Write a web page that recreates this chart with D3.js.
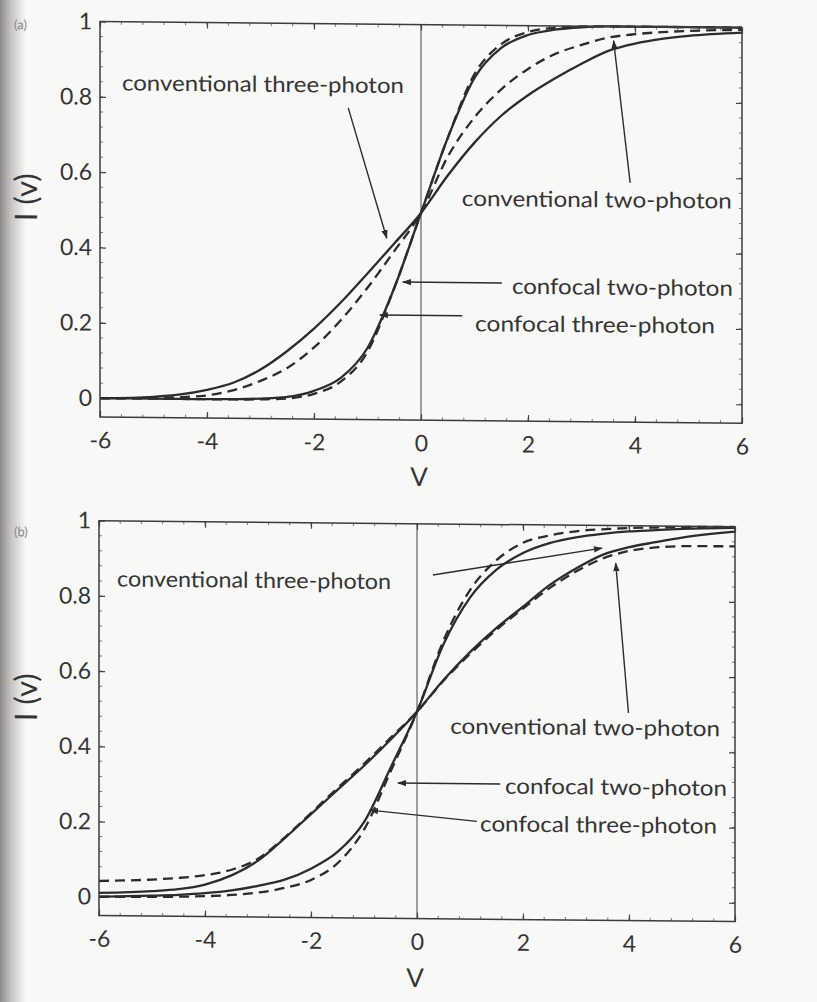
<!DOCTYPE html>
<html>
<head>
<meta charset="utf-8">
<script src="https://cdn.jsdelivr.net/npm/d3@7"></script>
<style>
  body { margin: 0; background: #f8f8f6; }
  svg { display: block; }
  text { font-family: Lato, "Noto Sans", sans-serif; fill: #353535; }
</style>
</head>
<body>
<svg id="fig" width="817" height="1002"></svg>
<script>
// Normalised optical coordinate v at which every curve is sampled
const vGrid = [-6, -5, -4.5, -4, -3.5, -3, -2.5, -2, -1.5, -1, -0.5, 0,
               0.5, 1, 1.5, 2, 2.5, 3, 3.5, 4, 4.5, 5, 6];

// (a) edge responses I(v)
const conv2pA = [0.0, 0.005, 0.012, 0.025, 0.045, 0.08, 0.13, 0.19, 0.26, 0.338, 0.418, 0.5,
                 0.6, 0.688, 0.76, 0.815, 0.86, 0.9, 0.935, 0.955, 0.968, 0.977, 0.987];
const conv3pA = [0.0, 0.002, 0.005, 0.01, 0.025, 0.05, 0.085, 0.14, 0.213, 0.3, 0.398, 0.5,
                 0.65, 0.755, 0.83, 0.885, 0.925, 0.95, 0.97, 0.98, 0.986, 0.99, 0.994];
const conf2pA = [0.0, 0.0, 0.0, 0.0, 0.001, 0.003, 0.008, 0.025, 0.06, 0.14, 0.3, 0.5,
                 0.7, 0.86, 0.94, 0.975, 0.99, 0.997, 1.0, 1.0, 1.0, 1.0, 1.0];
const conf3pA = [0.0, 0.0, 0.0, 0.0, 0.0, 0.001, 0.004, 0.017, 0.05, 0.13, 0.3, 0.5,
                 0.7, 0.87, 0.95, 0.983, 0.995, 0.999, 1.0, 1.0, 1.0, 1.0, 1.0];

// (b) edge responses I(v)
const conv2pB = [0.01, 0.016, 0.022, 0.035, 0.06, 0.1, 0.16, 0.225, 0.29, 0.355, 0.425, 0.5,
                 0.585, 0.66, 0.725, 0.782, 0.84, 0.885, 0.922, 0.943, 0.957, 0.97, 0.987];
const conv3pB = [0.042, 0.047, 0.052, 0.06, 0.075, 0.105, 0.162, 0.228, 0.295, 0.36, 0.43, 0.5,
                 0.583, 0.655, 0.72, 0.777, 0.832, 0.877, 0.912, 0.933, 0.943, 0.947, 0.948];
const conf2pB = [0.0, 0.004, 0.007, 0.012, 0.02, 0.033, 0.05, 0.08, 0.125, 0.205, 0.35, 0.5,
                 0.68, 0.805, 0.88, 0.925, 0.952, 0.968, 0.978, 0.985, 0.989, 0.993, 0.997];
const conf3pB = [0.0, 0.001, 0.002, 0.004, 0.008, 0.015, 0.028, 0.05, 0.095, 0.185, 0.34, 0.5,
                 0.69, 0.825, 0.905, 0.952, 0.972, 0.984, 0.99, 0.994, 0.996, 0.998, 1.0];

// Axis ticks and their printed labels
const xTicks = [-6, -4, -2, 0, 2, 4, 6];
const xTickLabels = ["-6", "-4", "-2", "0", "2", "4", "6"];
const yTicks = [0, 0.2, 0.4, 0.6, 0.8, 1];
const yTickLabels = ["0", "0.2", "0.4", "0.6", "0.8", "1"];

// Curve annotations: label text, label anchor (v, I) and leader line (from -> arrow tip)
const notesA = [
  { text: "conventional three-photon", at: [-5.59, 0.84], anchor: "start", len: 282,
    from: [-1.36, 0.777], to: [-0.64, 0.432] },
  { text: "conventional two-photon", at: [5.81, 0.542], anchor: "end", len: 270,
    from: [3.91, 0.585], to: [3.6, 0.962] },
  { text: "confocal two-photon", at: [1.7, 0.31], anchor: "start", len: 221,
    from: [1.51, 0.316], to: [-0.34, 0.316] },
  { text: "confocal three-photon", at: [1.01, 0.21], anchor: "start", len: 240,
    from: [0.77, 0.228], to: [-0.77, 0.228] }
];
const notesB = [
  { text: "conventional three-photon", at: [-5.66, 0.848], anchor: "start", len: 274,
    from: [0.3, 0.864], to: [3.49, 0.94] },
  { text: "conventional two-photon", at: [5.72, 0.465], anchor: "end", len: 270,
    from: [3.99, 0.502], to: [3.75, 0.9] },
  { text: "confocal two-photon", at: [1.66, 0.307], anchor: "start", len: 222,
    from: [1.57, 0.31], to: [-0.36, 0.31] },
  { text: "confocal three-photon", at: [1.19, 0.206], anchor: "start", len: 237,
    from: [1.13, 0.21], to: [-0.89, 0.237] }
];

const panels = [
  { tag: "(a)", tagPos: [14, 30], xr: [100, 742], yr: [417, 21.5],
    series: [conv2pA, conv3pA, conf2pA, conf3pA], notes: notesA,
    yTitle: [25, 198], xTitle: [419, 483] },
  { tag: "(b)", tagPos: [14, 537], xr: [99, 735], yr: [915.5, 520.7],
    series: [conv2pB, conv3pB, conf2pB, conf3pB], notes: notesB,
    yTitle: [25, 698], xTitle: [415, 984] }
];
// solid / dashed pattern for conventional 2p, conventional 3p, confocal 2p, confocal 3p
const dashes = [null, "10,6", null, "10,6"];

const ink = "#2c2c2c";
const svg = d3.select("#fig");
const defs = svg.append("defs");

// grey shading along the bound edge of the page
const grad = defs.append("linearGradient").attr("id", "spine")
  .attr("x1", 0).attr("x2", 1).attr("y1", 0).attr("y2", 0);
grad.append("stop").attr("offset", 0).attr("stop-color", "#8e8a8a");
grad.append("stop").attr("offset", 0.45).attr("stop-color", "#c9c6c6");
grad.append("stop").attr("offset", 1).attr("stop-color", "#f8f8f6");
svg.append("rect").attr("x", 0).attr("y", 0).attr("width", 26).attr("height", 1002)
  .attr("fill", "url(#spine)");

defs.append("marker").attr("id", "head")
  .attr("viewBox", "0 0 10 10").attr("refX", 9).attr("refY", 5)
  .attr("markerWidth", 9).attr("markerHeight", 9).attr("markerUnits", "userSpaceOnUse")
  .attr("orient", "auto")
  .append("path").attr("d", "M0,1.5 L10,5 L0,8.5 Z").attr("fill", ink);

// the printed page sits with a slight tilt
const page = svg.append("g")
  .attr("transform", "translate(100,0) skewY(0.55) translate(-100,0)");

panels.forEach(p => {
  const x = d3.scaleLinear().domain([-6, 6]).range(p.xr);
  const y = d3.scaleLinear().domain([-0.05, 1]).range(p.yr);
  const g = page.append("g");
  const [x0, x1] = p.xr, [yb, yt] = p.yr;

  // zero line
  g.append("line").attr("x1", x(0)).attr("x2", x(0)).attr("y1", yt).attr("y2", yb)
    .attr("stroke", "#555").attr("stroke-width", 1.1);

  // minor ticks on all four sides
  const xMinor = d3.range(-6, 6.001, 0.4);
  const yMinor = d3.range(0, 1.001, 0.04);
  const minor = g.append("g").attr("stroke", "#777").attr("stroke-width", 1);
  xMinor.forEach(v => {
    minor.append("line").attr("x1", x(v)).attr("x2", x(v)).attr("y1", yb).attr("y2", yb - 3);
    minor.append("line").attr("x1", x(v)).attr("x2", x(v)).attr("y1", yt).attr("y2", yt + 3);
  });
  yMinor.forEach(v => {
    minor.append("line").attr("x1", x0).attr("x2", x0 + 3).attr("y1", y(v)).attr("y2", y(v));
    minor.append("line").attr("x1", x1).attr("x2", x1 - 3).attr("y1", y(v)).attr("y2", y(v));
  });

  // major axes with inward ticks
  const axB = d3.axisBottom(x).tickValues(xTicks).tickFormat((d, i) => xTickLabels[i])
    .tickSizeInner(-6).tickSizeOuter(0).tickPadding(15);
  const axT = d3.axisTop(x).tickValues(xTicks).tickFormat("").tickSizeInner(-6).tickSizeOuter(0);
  const axL = d3.axisLeft(y).tickValues(yTicks).tickFormat((d, i) => yTickLabels[i])
    .tickSizeInner(-6).tickSizeOuter(0).tickPadding(8);
  const axR = d3.axisRight(y).tickValues(yTicks).tickFormat("").tickSizeInner(-6).tickSizeOuter(0);
  [[axB, `translate(0,${yb})`], [axT, `translate(0,${yt})`],
   [axL, `translate(${x0},0)`], [axR, `translate(${x1},0)`]].forEach(([ax, tr]) => {
    const a = g.append("g").attr("transform", tr).call(ax);
    a.select(".domain").remove();
    a.selectAll("line").attr("stroke", "#444").attr("stroke-width", 1.2);
    a.selectAll("text").attr("font-size", 23).attr("fill", "#3a3a3a")
      .style("font-family", "Lato, 'Noto Sans', sans-serif");
  });

  // curves
  const line = d3.line().x((d, i) => x(vGrid[i])).y(d => y(d)).curve(d3.curveMonotoneX);
  p.series.forEach((s, k) => {
    g.append("path").datum(s).attr("d", line)
      .attr("fill", "none").attr("stroke", ink).attr("stroke-width", 2.3)
      .attr("stroke-dasharray", dashes[k]);
  });

  // frame
  g.append("rect").attr("x", x0).attr("y", yt).attr("width", x1 - x0).attr("height", yb - yt)
    .attr("fill", "none").attr("stroke", "#3c3c3c").attr("stroke-width", 1.5);

  // annotations
  p.notes.forEach(n => {
    g.append("line")
      .attr("x1", x(n.from[0])).attr("y1", y(n.from[1]))
      .attr("x2", x(n.to[0])).attr("y2", y(n.to[1]))
      .attr("stroke", ink).attr("stroke-width", 1.4).attr("marker-end", "url(#head)");
    g.append("text").attr("x", x(n.at[0])).attr("y", y(n.at[1]))
      .attr("text-anchor", n.anchor).attr("dominant-baseline", "central")
      .attr("font-size", 22).attr("textLength", n.len).attr("lengthAdjust", "spacingAndGlyphs")
      .text(n.text);
  });

  // axis titles and panel tag
  g.append("text").attr("x", p.xTitle[0]).attr("y", p.xTitle[1])
    .attr("text-anchor", "middle").attr("font-size", 26).text("V");
  g.append("text").attr("transform", `translate(${p.yTitle[0]},${p.yTitle[1]}) rotate(-90)`)
    .attr("text-anchor", "middle").attr("dominant-baseline", "central")
    .attr("font-size", 31).text("I (v)");
  g.append("text").attr("x", p.tagPos[0]).attr("y", p.tagPos[1])
    .attr("font-size", 13).style("fill", "#8a8686").text(p.tag);
});
</script>
</body>
</html>
